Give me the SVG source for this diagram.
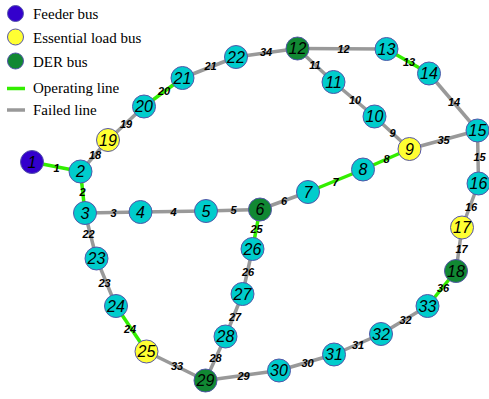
<svg xmlns="http://www.w3.org/2000/svg" width="489" height="399" viewBox="0 0 489 399">
<style>
.bg{fill:#ffffff}
.op{stroke:#33ee00;stroke-width:3.5;stroke-linecap:butt}
.fl{stroke:#999999;stroke-width:3.5;stroke-linecap:butt}
.n circle{stroke:#5555aa;stroke-width:1}
.bus{fill:#00cccc}
.fd{fill:#3300cc}
.es{fill:#ffff33}
.der{fill:#118833}
.nl{font-family:"Liberation Sans",Arial,sans-serif;font-style:italic;font-size:16px;fill:#000;text-anchor:middle;dominant-baseline:central}
.el{font-family:"Liberation Sans",Arial,sans-serif;font-style:italic;font-weight:bold;font-size:11px;fill:#000;text-anchor:middle;dominant-baseline:central}
.lg{font-family:"Liberation Serif","Times New Roman",serif;font-size:15px;fill:#000}
</style>
<rect class="bg" width="489" height="399"/>
<g id="legend">
<circle cx="15.5" cy="13.5" r="8" class="fd" stroke="#5555aa" stroke-width="1"/>
<text class="lg" x="33" y="18.5">Feeder bus</text>
<circle cx="15.5" cy="37" r="8" class="es" stroke="#5555aa" stroke-width="1"/>
<text class="lg" x="33" y="42.5">Essential load bus</text>
<circle cx="15.5" cy="61" r="8" class="der" stroke="#5555aa" stroke-width="1"/>
<text class="lg" x="33" y="66.5">DER bus</text>
<line class="op" x1="7" y1="88.5" x2="25" y2="88.5"/>
<text class="lg" x="33" y="93">Operating line</text>
<line class="fl" x1="7" y1="110" x2="25" y2="110"/>
<text class="lg" x="33" y="115">Failed line</text>
</g>
<g id="connectors">
<line class="op" x1="32" y1="162" x2="80.5" y2="171.5"/>
<line class="op" x1="80.5" y1="171.5" x2="85" y2="213"/>
<line class="fl" x1="85" y1="213" x2="140.5" y2="212"/>
<line class="fl" x1="140.5" y1="212" x2="206" y2="211"/>
<line class="fl" x1="206" y1="211" x2="260" y2="209.5"/>
<line class="fl" x1="260" y1="209.5" x2="308" y2="192"/>
<line class="op" x1="308" y1="192" x2="363" y2="169.5"/>
<line class="op" x1="363" y1="169.5" x2="409.5" y2="149"/>
<line class="fl" x1="409.5" y1="149" x2="374.5" y2="116.5"/>
<line class="fl" x1="374.5" y1="116.5" x2="333.5" y2="82"/>
<line class="fl" x1="333.5" y1="82" x2="297.5" y2="48.5"/>
<line class="fl" x1="297.5" y1="48.5" x2="386.5" y2="49"/>
<line class="op" x1="386.5" y1="49" x2="429" y2="73.5"/>
<line class="fl" x1="429" y1="73.5" x2="477.5" y2="130.5"/>
<line class="fl" x1="477.5" y1="130.5" x2="478.5" y2="183.5"/>
<line class="fl" x1="478.5" y1="183.5" x2="462" y2="227.5"/>
<line class="fl" x1="462" y1="227.5" x2="456" y2="271"/>
<line class="fl" x1="80.5" y1="171.5" x2="108" y2="140"/>
<line class="fl" x1="108" y1="140" x2="144" y2="106.5"/>
<line class="op" x1="144" y1="106.5" x2="182.5" y2="78"/>
<line class="fl" x1="182.5" y1="78" x2="236" y2="57"/>
<line class="fl" x1="85" y1="213" x2="96.5" y2="258.5"/>
<line class="fl" x1="96.5" y1="258.5" x2="116" y2="306"/>
<line class="op" x1="116" y1="306" x2="146.5" y2="351.5"/>
<line class="op" x1="260" y1="209.5" x2="252.5" y2="249"/>
<line class="fl" x1="252.5" y1="249" x2="242.5" y2="294"/>
<line class="fl" x1="242.5" y1="294" x2="225.5" y2="336.5"/>
<line class="fl" x1="225.5" y1="336.5" x2="205.5" y2="380.5"/>
<line class="fl" x1="205.5" y1="380.5" x2="279" y2="370.5"/>
<line class="fl" x1="279" y1="370.5" x2="334" y2="354.5"/>
<line class="fl" x1="334" y1="354.5" x2="381" y2="334"/>
<line class="fl" x1="381" y1="334" x2="427.5" y2="306"/>
<line class="fl" x1="146.5" y1="351.5" x2="205.5" y2="380.5"/>
<line class="fl" x1="236" y1="57" x2="297.5" y2="48.5"/>
<line class="fl" x1="409.5" y1="149" x2="477.5" y2="130.5"/>
<line class="op" x1="427.5" y1="306" x2="456" y2="271"/>
<text class="el" x="56.5" y="167.5">1</text>
<text class="el" x="82.5" y="191.5">2</text>
<text class="el" x="113.5" y="212.5">3</text>
<text class="el" x="173.5" y="211.5">4</text>
<text class="el" x="233.5" y="210">5</text>
<text class="el" x="284" y="201">6</text>
<text class="el" x="335.5" y="181.5">7</text>
<text class="el" x="386.5" y="159">8</text>
<text class="el" x="392.5" y="133">9</text>
<text class="el" x="355" y="99.5">10</text>
<text class="el" x="315" y="65">11</text>
<text class="el" x="343.5" y="49">12</text>
<text class="el" x="409" y="62">13</text>
<text class="el" x="454" y="102">14</text>
<text class="el" x="479.5" y="156.5">15</text>
<text class="el" x="471" y="206.5">16</text>
<text class="el" x="461.5" y="248.5">17</text>
<text class="el" x="95" y="155">18</text>
<text class="el" x="126" y="124">19</text>
<text class="el" x="164" y="91">20</text>
<text class="el" x="210.5" y="66">21</text>
<text class="el" x="88.5" y="234">22</text>
<text class="el" x="104.5" y="282.5">23</text>
<text class="el" x="130" y="329">24</text>
<text class="el" x="256.5" y="229">25</text>
<text class="el" x="248" y="272">26</text>
<text class="el" x="235" y="316.5">27</text>
<text class="el" x="215.5" y="358">28</text>
<text class="el" x="243.5" y="375.5">29</text>
<text class="el" x="307.5" y="363">30</text>
<text class="el" x="358" y="345">31</text>
<text class="el" x="405.5" y="320">32</text>
<text class="el" x="177" y="366">33</text>
<text class="el" x="266" y="52">34</text>
<text class="el" x="443.5" y="140">35</text>
<text class="el" x="443" y="288">36</text>
</g>
<g id="node1" class="n"><circle cx="32" cy="162" r="11.5" class="fd"/><text class="nl" x="32" y="162">1</text></g>
<g id="node2" class="n"><circle cx="80.5" cy="171.5" r="11.5" class="bus"/><text class="nl" x="80.5" y="171.5">2</text></g>
<g id="node3" class="n"><circle cx="85" cy="213" r="11.5" class="bus"/><text class="nl" x="85" y="213">3</text></g>
<g id="node4" class="n"><circle cx="140.5" cy="212" r="11.5" class="bus"/><text class="nl" x="140.5" y="212">4</text></g>
<g id="node5" class="n"><circle cx="206" cy="211" r="11.5" class="bus"/><text class="nl" x="206" y="211">5</text></g>
<g id="node6" class="n"><circle cx="260" cy="209.5" r="11.5" class="der"/><text class="nl" x="260" y="209.5">6</text></g>
<g id="node7" class="n"><circle cx="308" cy="192" r="11.5" class="bus"/><text class="nl" x="308" y="192">7</text></g>
<g id="node8" class="n"><circle cx="363" cy="169.5" r="11.5" class="bus"/><text class="nl" x="363" y="169.5">8</text></g>
<g id="node9" class="n"><circle cx="409.5" cy="149" r="11.5" class="es"/><text class="nl" x="409.5" y="149">9</text></g>
<g id="node10" class="n"><circle cx="374.5" cy="116.5" r="11.5" class="bus"/><text class="nl" x="374.5" y="116.5">10</text></g>
<g id="node11" class="n"><circle cx="333.5" cy="82" r="11.5" class="bus"/><text class="nl" x="333.5" y="82">11</text></g>
<g id="node12" class="n"><circle cx="297.5" cy="48.5" r="11.5" class="der"/><text class="nl" x="297.5" y="48.5">12</text></g>
<g id="node13" class="n"><circle cx="386.5" cy="49" r="11.5" class="bus"/><text class="nl" x="386.5" y="49">13</text></g>
<g id="node14" class="n"><circle cx="429" cy="73.5" r="11.5" class="bus"/><text class="nl" x="429" y="73.5">14</text></g>
<g id="node15" class="n"><circle cx="477.5" cy="130.5" r="11.5" class="bus"/><text class="nl" x="477.5" y="130.5">15</text></g>
<g id="node16" class="n"><circle cx="478.5" cy="183.5" r="11.5" class="bus"/><text class="nl" x="478.5" y="183.5">16</text></g>
<g id="node17" class="n"><circle cx="462" cy="227.5" r="11.5" class="es"/><text class="nl" x="462" y="227.5">17</text></g>
<g id="node18" class="n"><circle cx="456" cy="271" r="11.5" class="der"/><text class="nl" x="456" y="271">18</text></g>
<g id="node19" class="n"><circle cx="108" cy="140" r="11.5" class="es"/><text class="nl" x="108" y="140">19</text></g>
<g id="node20" class="n"><circle cx="144" cy="106.5" r="11.5" class="bus"/><text class="nl" x="144" y="106.5">20</text></g>
<g id="node21" class="n"><circle cx="182.5" cy="78" r="11.5" class="bus"/><text class="nl" x="182.5" y="78">21</text></g>
<g id="node22" class="n"><circle cx="236" cy="57" r="11.5" class="bus"/><text class="nl" x="236" y="57">22</text></g>
<g id="node23" class="n"><circle cx="96.5" cy="258.5" r="11.5" class="bus"/><text class="nl" x="96.5" y="258.5">23</text></g>
<g id="node24" class="n"><circle cx="116" cy="306" r="11.5" class="bus"/><text class="nl" x="116" y="306">24</text></g>
<g id="node25" class="n"><circle cx="146.5" cy="351.5" r="11.5" class="es"/><text class="nl" x="146.5" y="351.5">25</text></g>
<g id="node26" class="n"><circle cx="252.5" cy="249" r="11.5" class="bus"/><text class="nl" x="252.5" y="249">26</text></g>
<g id="node27" class="n"><circle cx="242.5" cy="294" r="11.5" class="bus"/><text class="nl" x="242.5" y="294">27</text></g>
<g id="node28" class="n"><circle cx="225.5" cy="336.5" r="11.5" class="bus"/><text class="nl" x="225.5" y="336.5">28</text></g>
<g id="node29" class="n"><circle cx="205.5" cy="380.5" r="11.5" class="der"/><text class="nl" x="205.5" y="380.5">29</text></g>
<g id="node30" class="n"><circle cx="279" cy="370.5" r="11.5" class="bus"/><text class="nl" x="279" y="370.5">30</text></g>
<g id="node31" class="n"><circle cx="334" cy="354.5" r="11.5" class="bus"/><text class="nl" x="334" y="354.5">31</text></g>
<g id="node32" class="n"><circle cx="381" cy="334" r="11.5" class="bus"/><text class="nl" x="381" y="334">32</text></g>
<g id="node33" class="n"><circle cx="427.5" cy="306" r="11.5" class="bus"/><text class="nl" x="427.5" y="306">33</text></g>
</svg>
